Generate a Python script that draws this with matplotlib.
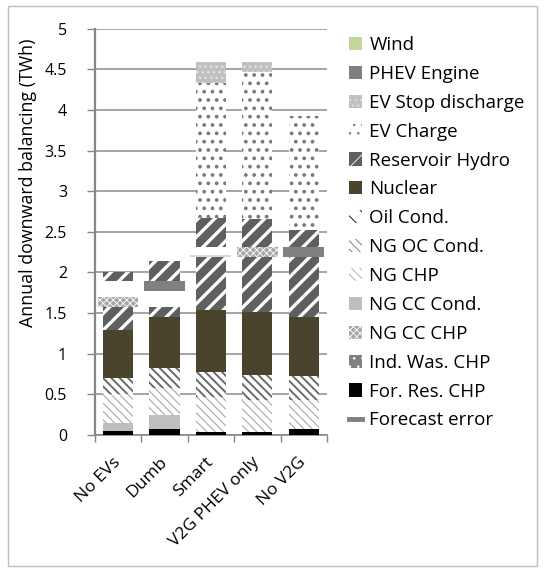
import matplotlib
matplotlib.use("Agg")
import matplotlib.pyplot as plt
from matplotlib.patches import Rectangle, Patch
from matplotlib.lines import Line2D
import numpy as np

plt.rcParams['font.family'] = ['Open Sans', 'DejaVu Sans']

categories = ['No EVs', 'Dumb', 'Smart', 'V2G PHEV only', 'No V2G']

for_res_chp   = [0.05, 0.07, 0.04, 0.04, 0.07]
ind_was_chp   = [0.00, 0.01, 0.00, 0.00, 0.00]
ng_cc_chp     = [0.00, 0.00, 0.00, 0.00, 0.00]
ng_cc_cond    = [0.10, 0.16, 0.00, 0.00, 0.00]
ng_chp        = [0.36, 0.34, 0.43, 0.39, 0.36]
ng_oc_cond    = [0.19, 0.25, 0.31, 0.31, 0.30]
oil_cond      = [0.00, 0.00, 0.00, 0.00, 0.00]
nuclear       = [0.59, 0.62, 0.76, 0.77, 0.72]
hydro_lower   = [0.29, 0.13, 0.65, 0.68, 0.74]
blank_gap     = [0.31, 0.31, 0.12, 0.12, 0.12]
hydro_upper   = [0.11, 0.25, 0.36, 0.35, 0.21]
ev_charge     = [0.00, 0.00, 1.66, 1.81, 1.40]
ev_stop_dis   = [0.00, 0.00, 0.255, 0.12, 0.00]
phev_engine   = [0.00, 0.00, 0.00, 0.00, 0.00]
wind          = [0.00, 0.00, 0.00, 0.00, 0.00]
forecast_err  = [1.64, 1.83, 2.20, 2.25, 2.25]

yticks = [0, 0.5, 1, 1.5, 2, 2.5, 3, 3.5, 4, 4.5, 5]
ytick_labels = ['0', '0.5', '1', '1.5', '2', '2.5', '3', '3.5', '4', '4.5', '5']

# styles: facecolor, hatch, hatchcolor, hatch linewidth
styles = {
    'Wind': ('#c3d69b', None, None, 1.0),
    'PHEV Engine': ('#808080', None, None, 1.0),
    'EV Stop discharge': ('#c0c0c0', '...', '#e6e6e6', 1.0),
    'EV Charge': ('white', '..', '#7a7a7a', 1.5),
    'Reservoir Hydro': ('#5f5f5f', '//', 'white', 2.4),
    'Nuclear': ('#4a442d', None, None, 1.0),
    'Oil Cond.': ('white', '\\\\', 'black', 1.5),
    'NG OC Cond.': ('white', '\\\\\\\\', '#6a6a6a', 1.4),
    'NG CHP': ('white', '\\\\\\\\', '#a8a8a8', 0.8),
    'NG CC Cond.': ('#bfbfbf', None, None, 1.0),
    'NG CC CHP': ('#a6a6a6', 'xxxxx', 'white', 0.6),
    'Ind. Was. CHP': ('#808080', '..', 'white', 1.0),
    'For. Res. CHP': ('black', None, None, 1.0),
}

fig = plt.figure(figsize=(5.45, 5.72), dpi=100)
ax = fig.add_axes([0.174, 0.2395, 0.426, 0.7105])

x = np.arange(len(categories))
bw = 0.65


def draw(vals, bottom, key, zorder=3):
    fc, hatch, hc, hlw = styles[key]
    plt.rcParams['hatch.linewidth'] = hlw
    bars = ax.bar(x, vals, bw, bottom=bottom, color=fc, hatch=hatch,
                  edgecolor=hc if hc else fc, linewidth=0, zorder=zorder)
    for b in bars:
        if hasattr(b, 'set_hatch_linewidth'):
            b.set_hatch_linewidth(hlw)
    return bottom + np.array(vals)

bottom = np.zeros(len(categories))
stack = [
    (for_res_chp, 'For. Res. CHP'),
    (ind_was_chp, 'Ind. Was. CHP'),
    (ng_cc_chp, 'NG CC CHP'),
    (ng_cc_cond, 'NG CC Cond.'),
    (ng_chp, 'NG CHP'),
    (ng_oc_cond, 'NG OC Cond.'),
    (oil_cond, 'Oil Cond.'),
    (nuclear, 'Nuclear'),
    (hydro_lower, 'Reservoir Hydro'),
]
for vals, key in stack:
    bottom = draw(vals, bottom, key)
bottom = bottom + np.array(blank_gap)
for vals, key in [(hydro_upper, 'Reservoir Hydro'), (ev_charge, 'EV Charge'),
                  (ev_stop_dis, 'EV Stop discharge'), (phev_engine, 'PHEV Engine'),
                  (wind, 'Wind')]:
    bottom = draw(vals, bottom, key)

# forecast error markers (appearance differs per scenario in the original)
marker_kind = ['pattern', 'solid', 'line', 'pattern', 'solid']
for xi, v, kind in zip(x, forecast_err, marker_kind):
    if kind == 'pattern':
        plt.rcParams['hatch.linewidth'] = 0.6
        ax.bar(xi, 0.12, 0.88, bottom=v - 0.06, color='#a6a6a6', hatch='xxxxx',
               edgecolor='white', linewidth=0, zorder=4)
    elif kind == 'solid':
        ax.bar(xi, 0.12, 0.88, bottom=v - 0.06, color='#808080', linewidth=0, zorder=4)
    else:
        ax.bar(xi, 0.025, 0.88, bottom=v - 0.0125, color='#d9d9d9', linewidth=0, zorder=4)

ax.set_xlim(-0.5, 4.5)
ax.set_ylim(0, 5)
ax.set_yticks(yticks)
ax.set_yticklabels(ytick_labels, fontsize=11.5)
ax.yaxis.grid(True, color='#8c8c8c', linewidth=1.1, zorder=0)
ax.set_axisbelow(True)
for s in ['top', 'right']:
    ax.spines[s].set_visible(False)
ax.spines['left'].set_color('#868686')
ax.spines['left'].set_linewidth(1.6)
ax.spines['bottom'].set_color('#868686')
ax.spines['bottom'].set_linewidth(1.2)
ax.tick_params(axis='y', direction='out', length=6, color='#868686', width=1, pad=14)

ax.set_xticks(x)
ax.set_xticklabels(categories, rotation=45, ha='right', va='center',
                   rotation_mode='anchor', fontsize=12.5)
ax.tick_params(axis='x', which='major', length=0, pad=18)
ax.set_xticks(np.arange(-0.5, 5.0, 1.0), minor=True)
ax.tick_params(axis='x', which='minor', direction='out', length=5, color='#868686', width=1)

ax.set_ylabel('Annual downward balancing (TWh)', fontsize=12.8)
ax.yaxis.set_label_coords(-0.248, 0.621)

# legend
legend_order = ['Wind', 'PHEV Engine', 'EV Stop discharge', 'EV Charge', 'Reservoir Hydro',
                'Nuclear', 'Oil Cond.', 'NG OC Cond.', 'NG CHP', 'NG CC Cond.',
                'NG CC CHP', 'Ind. Was. CHP', 'For. Res. CHP']
handles = []
for key in legend_order:
    fc, hatch, hc, hlw = styles[key]
    handles.append(Patch(facecolor=fc, hatch=hatch, edgecolor=hc if hc else fc,
                         linewidth=0, label=key))
handles.append(Line2D([0], [0], color='#808080', linewidth=3.5, label='Forecast error'))
fig.legend(handles=handles, loc='upper left', bbox_to_anchor=(0.626, 0.95),
           frameon=False, fontsize=13.5, handlelength=0.7, handleheight=0.7,
           handletextpad=0.4, labelspacing=0.58, borderaxespad=0)

fig.patches.append(Rectangle((0.015, 0.01), 0.97, 0.98, transform=fig.transFigure,
                             fill=False, edgecolor='#bfbfbf', linewidth=1))

fig.savefig('out.png', dpi=100)
